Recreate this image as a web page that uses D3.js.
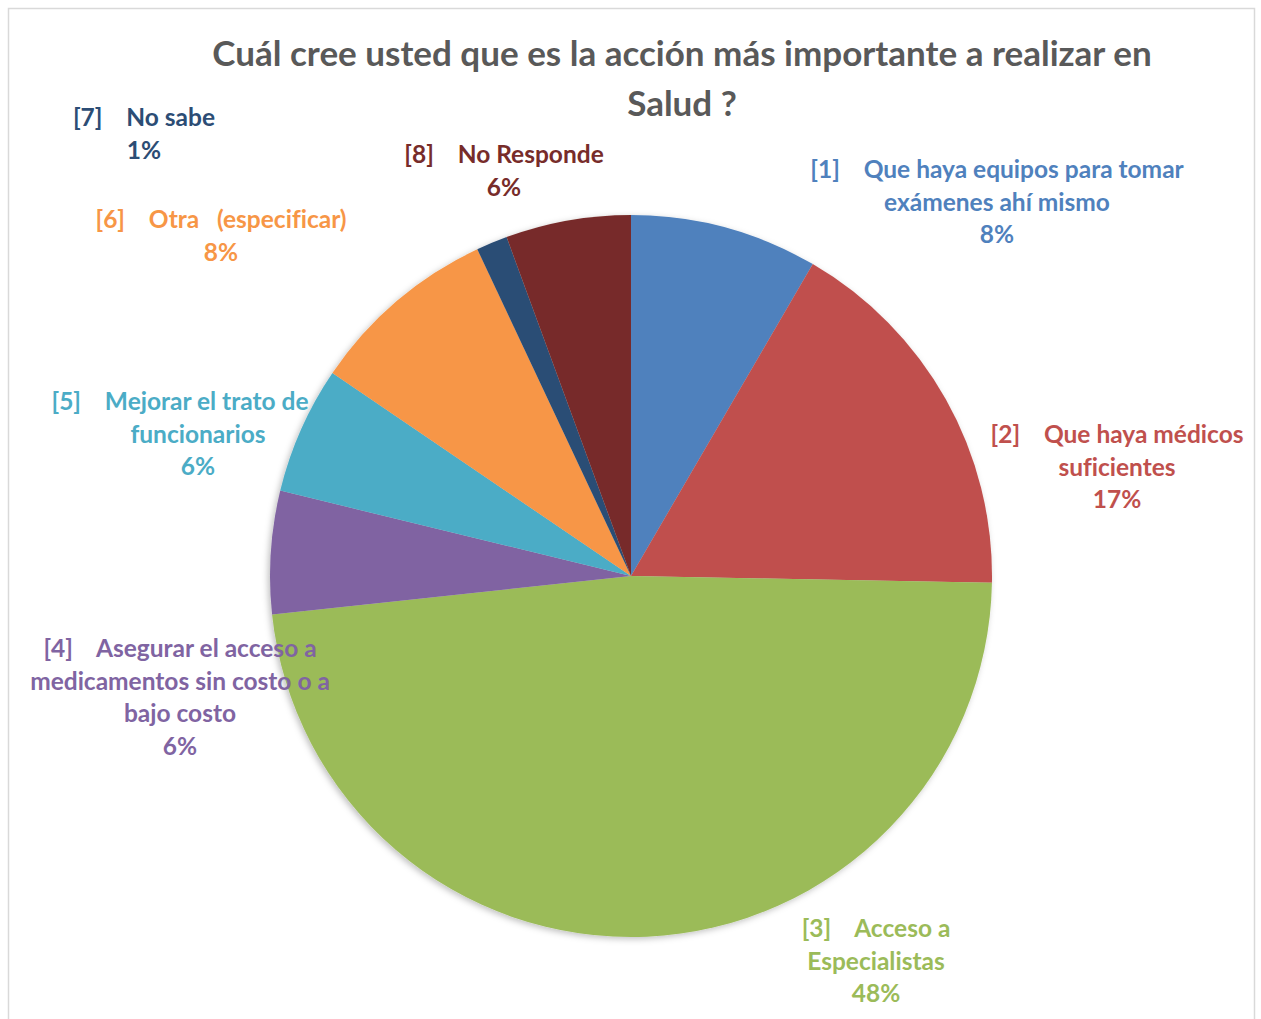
<!DOCTYPE html>
<html>
<head>
<meta charset="utf-8">
<script src="https://cdn.jsdelivr.net/npm/d3@7"></script>
<style>
  body { margin: 0; background: #fff; }
  text { font-family: Lato, "Open Sans", sans-serif; font-weight: bold; white-space: pre; font-variant-ligatures: none; }
</style>
</head>
<body>
<svg id="chart" width="1261" height="1019"></svg>
<script>
/* data */
var CODES = ["[1]", "[2]", "[3]", "[4]", "[5]", "[6]", "[7]", "[8]"];
var CATEGORIES = [
    ["Que haya equipos para tomar", "exámenes ahí mismo"],
    ["Que haya médicos", "suficientes"],
    ["Acceso a", "Especialistas"],
    ["Asegurar el acceso a", "medicamentos sin costo o a", "bajo costo"],
    ["Mejorar el trato de", "funcionarios"],
    ["Otra   (especificar)"],
    ["No sabe"],
    ["No Responde"]
];
var VALUES = [8.4, 16.9, 48.0, 5.5, 5.7, 8.5, 1.4, 5.6];
var PERCENT_LABELS = ["8%", "17%", "48%", "6%", "6%", "8%", "1%", "6%"];
var COLORS = ["#4F81BD", "#C0504D", "#9BBB59", "#8064A2", "#4BACC6", "#F79646", "#2C4D75", "#772C2A"];
var TITLE = ["Cuál cree usted que es la acción más importante a realizar en", "Salud ?"];

/* label placement (center x, first line center y), set by hand like the original */
var LABEL_POS = [[997, 170], [1117, 435], [876, 929], [180, 649], [180, 402], [221, 220], [144, 118], [504, 155]];

var svg = d3.select("#chart");
var cx = 631, cy = 576, radius = 361;
var lineHeight = 32.5;

/* frame */
svg.append("rect")
    .attr("x", 8.5).attr("y", 8.5)
    .attr("width", 1246).attr("height", 1030)
    .attr("fill", "none")
    .attr("stroke", "#d9d9d9")
    .attr("stroke-width", 1.5);

/* soft shadow for slices */
var defs = svg.append("defs");
var filter = defs.append("filter").attr("id", "shadow")
    .attr("x", "-10%").attr("y", "-10%").attr("width", "120%").attr("height", "120%");
filter.append("feDropShadow")
    .attr("dx", -2).attr("dy", 2)
    .attr("stdDeviation", 3)
    .attr("flood-color", "#000")
    .attr("flood-opacity", 0.25);

/* title */
svg.append("text")
    .attr("text-anchor", "middle")
    .attr("fill", "#595959")
    .style("font-size", "35px")
    .selectAll("tspan")
    .data(TITLE).enter()
    .append("tspan")
    .attr("x", 682)
    .attr("y", function(d, i){ return 66 + i * 50; })
    .text(function(d){ return d; });

/* pie */
var pie = d3.pie().sort(null).value(function(d){ return d; });
var arc = d3.arc().innerRadius(0).outerRadius(radius);

var g = svg.append("g").attr("transform", "translate(" + cx + "," + cy + ")");
g.append("g")
    .attr("filter", "url(#shadow)")
    .selectAll("path")
    .data(pie(VALUES)).enter()
    .append("path")
    .attr("d", arc)
    .attr("fill", function(d, i){ return COLORS[i]; })
    .attr("stroke", "none");

/* labels */
CATEGORIES.forEach(function(lines, i){
    var pos = LABEL_POS[i];
    var t = svg.append("text")
        .attr("text-anchor", "middle")
        .attr("fill", COLORS[i])
        .style("font-size", "24.5px");
    var all = lines.map(function(l, j){
        return j == 0 ? CODES[i] + "    " + l : l;
    });
    all.push(PERCENT_LABELS[i]);
    all.forEach(function(l, j){
        // [5] has a trailing space in the original, so its later lines sit a bit right
        t.append("tspan")
            .attr("x", j == 0 ? pos[0] : pos[0] + (i == 4 ? 18 : 0))
            .attr("y", pos[1] + j * lineHeight + 8)
            .text(l);
    });
});
</script>
</body>
</html>
